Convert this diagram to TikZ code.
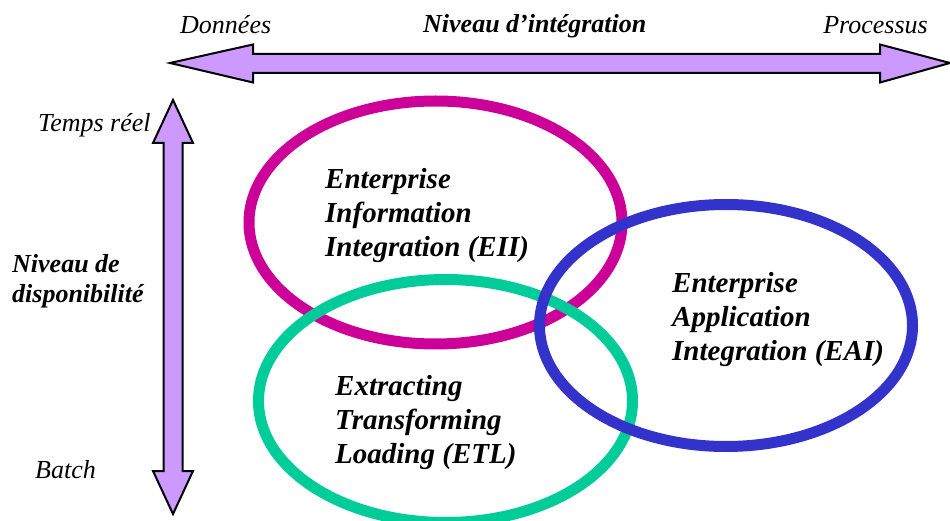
\documentclass[tikz,border=0pt]{standalone}
\usepackage{fontspec}
\setmainfont{Liberation Serif}
\definecolor{eiicol}{HTML}{CC0099}
\definecolor{etlcol}{HTML}{00CC99}
\definecolor{eaicol}{HTML}{3333CC}
\definecolor{arrowfill}{HTML}{CC99FF}
\tikzset{
  bigarrow/.style={draw=black, line width=2pt, fill=arrowfill, line join=miter},
  ring/.style={line width=11pt},
  axislabel/.style={font=\fontsize{26}{30}\selectfont\itshape, inner sep=0pt},
  axistitle/.style={font=\fontsize{26}{30}\selectfont\bfseries\itshape, inner sep=0pt, align=left},
  ringlabel/.style={font=\fontsize{29}{34}\selectfont\bfseries\itshape, inner sep=0pt, align=left, anchor=base west}
}
\begin{document}
\begin{tikzpicture}[x=1pt,y=-1pt]
\useasboundingbox (0,0) rectangle (950,521);
% horizontal double arrow
\draw[bigarrow] (170,63) -- (253,44.5) -- (253,54) -- (880,54) -- (880,44.5) -- (950,63)
  -- (880,82.5) -- (880,73) -- (253,73) -- (253,82.5) -- cycle;
% vertical double arrow
\draw[bigarrow] (173,100) -- (193,143) -- (182.5,143) -- (182.5,471) -- (193,471) -- (173,514)
  -- (153,471) -- (163.5,471) -- (163.5,143) -- (153,143) -- cycle;
% ellipses
\draw[ring, eiicol] (435.5,222.5) ellipse [x radius=186.5, y radius=121.5];
\draw[ring, etlcol] (445.5,401) ellipse [x radius=187, y radius=121.5];
\draw[ring, eaicol] (726,325.5) ellipse [x radius=186.5, y radius=121];
% labels
\node[axislabel, anchor=base west] (donnees) at (180,34) {Données};
\node[axistitle, anchor=base west] (nivint) at (423,33) {Niveau d’intégration};
\node[axislabel, anchor=base east] (processus) at (928,34) {Processus};
\node[axislabel, anchor=base west] (tempsreel) at (38,132) {Temps réel};
\node[axislabel, anchor=base west] (batch) at (35,478) {Batch};
\node[axistitle, anchor=base west] (nivdisp) at (12,302) {Niveau de\\disponibilité};
\node[ringlabel] (eii) at (325,257) {Enterprise\\Information\\Integration (EII)};
\node[ringlabel] (eai) at (672,360) {Enterprise\\Application\\Integration (EAI)};
\node[ringlabel] (etl) at (335,463) {Extracting\\Transforming\\Loading (ETL)};
\end{tikzpicture}
\end{document}
